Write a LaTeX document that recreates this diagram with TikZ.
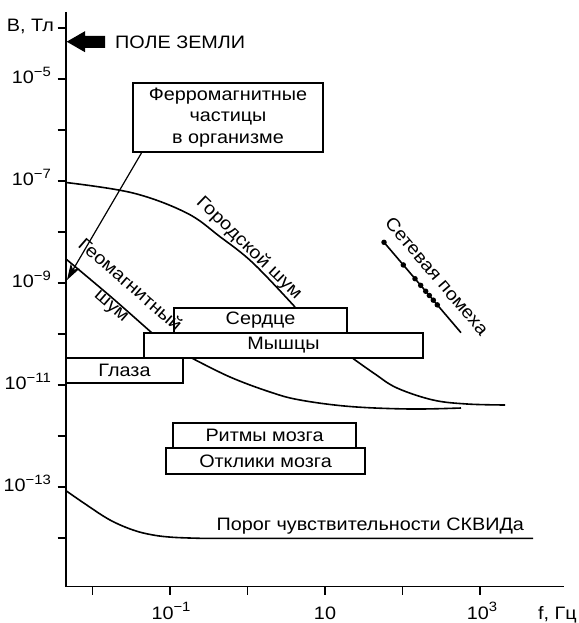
\documentclass[tikz,border=0pt]{standalone}
\usepackage{fontspec}
\setmainfont[FakeStretch=1.1]{Liberation Sans}
\usetikzlibrary{arrows.meta}
\newcommand\mylbl{\fontsize{18}{21.5}\selectfont}
\newcommand\myexp[1]{\raisebox{0.4em}{\fontsize{13.5}{13.5}\selectfont #1}}
\begin{document}
\begin{tikzpicture}[x=1pt,y=-1pt,
  axis/.style={line width=1.5pt, line join=miter},
  tickmark/.style={line width=1.2pt},
  curve/.style={line width=1.6pt},
  box/.style={draw, line width=1.3pt, fill=white, inner sep=0pt, font=\mylbl},
  lab/.style={inner sep=0pt, font=\mylbl},
  dot/.style={circle, fill=black, inner sep=0pt, minimum size=5.5pt}]
\useasboundingbox (0,0) rectangle (578,623);
% axes
\draw[axis] (66,12) -- (66,586.5) -- (564,586.5);
\foreach \y in {28,79,130,181,232,283,334,385,436,487,538}
  \draw[tickmark] (57.5,\y) -- (66,\y);
\foreach \x in {92.5,170,247.5,325,402.5,480}
  \draw[tickmark] (\x,586.5) -- (\x,595);
% y labels
\node[lab, anchor=base east] (yunit) at (54,32) {B, Тл};
\node[lab, anchor=base east] (y5) at (51,83.5) {10\myexp{−5}};
\node[lab, anchor=base east] (y7) at (51,185.5) {10\myexp{−7}};
\node[lab, anchor=base east] (y9) at (51,287.5) {10\myexp{−9}};
\node[lab, anchor=base east] (y11) at (51,389.5) {10\myexp{−11}};
\node[lab, anchor=base east] (y13) at (51,491.5) {10\myexp{−13}};
% x labels
\node[lab, anchor=base] (x1) at (171,619) {10\myexp{−1}};
\node[lab, anchor=base] (x2) at (325,619) {10};
\node[lab, anchor=base] (x3) at (482,619) {10\myexp{3}};
\node[lab, anchor=base west] (xunit) at (538,619) {f, Гц};
% Earth field arrow
\fill (66.7,41.7) -- (85,31.2) -- (85,35.8) -- (105,35.8) -- (105,48) -- (85,48) -- (85,52.2) -- cycle;
\node[lab, anchor=west] (earth) at (115,42) {ПОЛЕ ЗЕМЛИ};
% city noise
\draw[curve] plot[smooth, tension=0.6] coordinates {(66,182.5) (133,193) (186.7,213) (220,236.7) (253,263) (295,307)};
\draw[curve] plot[smooth, tension=0.6] coordinates {(353,358.5) (375,374) (397,388) (433,400) (467,404) (505,405)};
\node[lab, rotate=-44] (city) at (249,248) {Городской шум};
% geomagnetic noise
\draw[curve] plot[smooth, tension=0.5] coordinates {(66,259) (110,296) (152,333)};
\draw[curve] plot[smooth, tension=0.6] coordinates {(191.7,358) (230,377) (270,392) (300,400) (350,406.5) (410,409) (461,408)};
% SQUID
\draw[curve] plot[smooth, tension=0.6] coordinates {(66,490.7) (86.7,505) (110,520) (133,530) (153,535) (173,537.3) (200,538.3)} -- (533,538.3);
\node[lab, anchor=base west] (squid) at (216.5,530) {Порог чувствительности СКВИДа};
% mains interference
\draw[curve] (384,242.3) -- (461,332.7);
\foreach \x [count=\i] in {384,403.3,415,420.7,425.7,429.3,433.3,437.3}
  \node[dot] (d\i) at (\x,{242.3+(\x-384)*1.174}) {};
\node[lab, rotate=-49.6] (mains) at (437,276) {Сетевая помеха};
% boxes
\node[box, minimum width=190pt, minimum height=69pt, align=center] (ferro) at (228,117.5) {Ферромагнитные\\частицы\\в организме};
\node[box, minimum width=173pt, minimum height=25pt] (serdce) at (260.5,320.5) {Сердце};
\node[box, minimum width=279pt, minimum height=25pt] (myshcy) at (283.5,345.5) {Мышцы};
\node[box, minimum width=117pt, minimum height=25pt] (glaza) at (124.5,370.5) {Глаза};
\node[box, minimum width=183pt, minimum height=25pt] (ritmy) at (264.5,435.5) {Ритмы мозга};
\node[box, minimum width=199pt, minimum height=26pt] (otkliki) at (265.5,461) {Отклики мозга};
\node[lab, rotate=-41, align=center] (geo) at (120.5,295.8) {Геомагнитный\\[6pt]шум};
% leader arrow
\coordinate (tip) at (67,280);
\draw[line width=1.2pt, -{Stealth[length=16pt, width=10pt, inset=4pt]}] ([xshift=9.3pt]ferro.south west) -- (tip);
\end{tikzpicture}
\end{document}
